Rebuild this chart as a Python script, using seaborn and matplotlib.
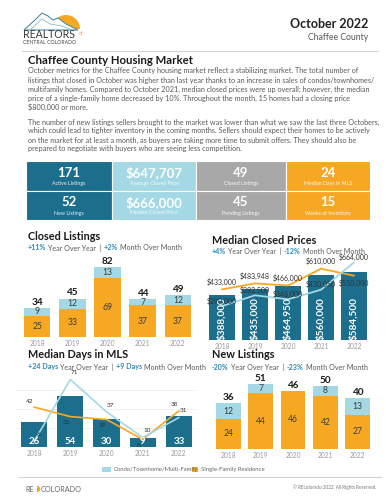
import numpy as np
import pandas as pd
import matplotlib.pyplot as plt
import seaborn as sns
from matplotlib.patches import Rectangle, Wedge, Polygon

# colours of the report
TEAL = '#1c6e8d'
LBLUE = '#a3d8e4'
ORANGE = '#f7a823'
GRAY = '#a8a8a8'
TXT = '#5a5a5a'
PCT = '#2e89b8'

# =============================================
# data
# =============================================
years = ['2018', '2019', '2020', '2021', '2022']

closed_condo = [9, 12, 13, 7, 12]
closed_sfr = [25, 33, 69, 37, 37]

price_all = [388000, 435000, 464950, 560000, 584500]
price_sfr = [433000, 483948, 466000, 610000, 550000]
price_condo = [290000, 382500, 348000, 430050, 664000]

dom_all = [26, 54, 30, 9, 33]
dom_sfr = [42, 32, 29, 8, 38]
dom_condo = [6, 71, 37, 10, 31]

new_condo = [12, 7, 0, 8, 13]
new_sfr = [24, 44, 46, 42, 27]

kpi_values = [['171', '$647,707', '49', '24'],
              ['52', '$666,000', '45', '15']]
kpi_labels = [['Active Listings', 'Average Closed Price', 'Closed Listings', 'Median Days in MLS'],
              ['New Listings', 'Median Closed Price', 'Pending Listings', 'Weeks of Inventory']]
kpi_colors = [TEAL, LBLUE, GRAY, ORANGE]

para1 = [
    "October metrics for the Chaffee County housing market reflect a stabilizing market. The total number of",
    "listings that closed in October was higher than last year thanks to an increase in sales of condos/townhomes/",
    "multifamily homes. Compared to October 2021, median closed prices were up overall; however, the median",
    "price of a single-family home decreased by 10%. Throughout the month, 15 homes had a closing price",
    "$800,000 or more.",
]
para2 = [
    "The number of new listings sellers brought to the market was lower than what we saw the last three Octobers,",
    "which could lead to tighter inventory in the coming months. Sellers should expect their homes to be actively",
    "on the market for at least a month, as buyers are taking more time to submit offers. They should also be",
    "prepared to negotiate with buyers who are seeing less competition.",
]

# =============================================
# figure set up (pixel coordinates on a background axes)
# =============================================
sns.set_style('white')
plt.rcParams['font.family'] = ['Lato', 'DejaVu Sans']
plt.rcParams['text.parse_math'] = False

fig = plt.figure(figsize=(3.86, 5.0), dpi=100)
bg = fig.add_axes([0, 0, 1, 1])
bg.set_xlim(0, 386)
bg.set_ylim(500, 0)
bg.axis('off')


def px_axes(x0, y0, x1, y1):
    ax = fig.add_axes([x0 / 386, 1 - y1 / 500, (x1 - x0) / 386, (y1 - y0) / 500])
    ax.patch.set_alpha(0)
    return ax


def style_axes(ax, ymax):
    ax.set_xlim(-0.5, len(years) - 0.5)
    ax.set_ylim(0, ymax)
    ax.set_xlabel('')
    ax.set_ylabel('')
    ax.set_yticks([])
    ax.set_xticks(range(len(years)))
    ax.set_xticklabels(years)
    ax.tick_params(axis='x', length=0, labelsize=4.8, labelcolor='#9a9a9a', pad=2)
    sns.despine(ax=ax, left=True, bottom=True)


def parts_text(x, y, parts, size=5.1):
    r = fig.canvas.get_renderer()
    gap = 0.3 * size * 100 / 72
    for s, color, weight in parts:
        t = bg.text(x, y, s, color=color, fontsize=size, fontweight=weight, va='center', ha='left')
        x += t.get_window_extent(renderer=r).width + gap


def stacked(ax, condo, sfr, ymax):
    df = pd.DataFrame({'year': years, 'condo': condo, 'sfr': sfr})
    df['total'] = df.condo + df.sfr
    sns.barplot(data=df, x='year', y='total', color=LBLUE, width=0.76, linewidth=0,
                saturation=1, ax=ax)
    sns.barplot(data=df, x='year', y='sfr', color=ORANGE, width=0.76, linewidth=0,
                saturation=1, ax=ax)
    for i, r in df.iterrows():
        ax.text(i, r.sfr / 2, str(r.sfr), ha='center', va='center', fontsize=6.2, color='#3d3d3d')
        if r.condo > 0:
            ax.text(i, r.sfr + r.condo / 2, str(r.condo), ha='center', va='center',
                    fontsize=6.2, color='#3d3d3d')
        ax.text(i, r.total + ymax * 0.015, str(r.total), ha='center', va='bottom',
                fontsize=7.2, fontweight='bold', color='#1a1a1a')
    style_axes(ax, ymax)


def line_labels(ax, sfr, condo, fmt, size, dx=0, up=1):
    # the higher series is labelled above its point, the lower single-family one below
    for i in range(len(years)):
        above = sfr[i] >= condo[i]
        ax.annotate(fmt(sfr[i]), (i, sfr[i]), xytext=(-dx, 2.5 if above else -2.5),
                    textcoords='offset points', ha='center', va='bottom' if above else 'top',
                    fontsize=size, color='#333333')
        ax.annotate(fmt(condo[i]), (i, condo[i]), xytext=(dx, up), textcoords='offset points',
                    ha='center', va='bottom', fontsize=size, color='#333333')


# =============================================
# header
# =============================================
bg.add_patch(Wedge((66, 29), 14, 180, 360, color=ORANGE, lw=0))
bg.add_patch(Polygon([(24, 30), (36, 19), (42, 13), (48, 16), (53, 20), (58, 18),
                      (66, 24), (78, 30)], closed=True, fc='white', ec='#4f8ea8', lw=0.8))
bg.plot([30, 42, 50, 62, 72], [30, 19, 24, 26, 30], color='#8fb9c9', lw=0.6)
bg.text(23, 34.5, 'REALTORS', fontsize=7.6, color='#3a3a3a', va='center', ha='left')
bg.text(79, 33, 'of', fontsize=4, color=ORANGE, style='italic', va='center')
bg.text(23, 43, 'CENTRAL COLORADO', fontsize=3.7, color='#444444', va='center', ha='left')

bg.text(368, 24, 'October 2022', fontsize=9, fontweight='bold', color='#222222',
        ha='right', va='center')
bg.text(368, 37, 'Chaffee County', fontsize=6.2, color='#555555', ha='right', va='center')
bg.plot([22, 378], [51, 51], color='#cdd6dc', lw=0.8)

bg.text(28, 61, 'Chaffee County Housing Market', fontsize=8.2, fontweight='bold',
        color='#1a1a1a', va='center')
for k, line in enumerate(para1):
    bg.text(28, 71 + 9 * k, line, fontsize=5.25, color=TXT, va='center')
for k, line in enumerate(para2):
    bg.text(28, 122 + 9 * k, line, fontsize=5.25, color=TXT, va='center')

# =============================================
# KPI tiles
# =============================================
col_x = [26, 112, 196, 286, 370]
row_y = [161, 190.5, 220]
for r in range(2):
    for c in range(4):
        x0, x1 = col_x[c], col_x[c + 1]
        y0, y1 = row_y[r], row_y[r + 1]
        bg.add_patch(Rectangle((x0, y0), x1 - x0, y1 - y0, fc=kpi_colors[c], ec='white', lw=0.8))
        xc = (x0 + x1) / 2
        bg.text(xc, y0 + 12, kpi_values[r][c], fontsize=9.5, fontweight='bold', color='white',
                ha='center', va='center')
        bg.text(xc, y0 + 22.5, kpi_labels[r][c], fontsize=3.8, color='white',
                ha='center', va='center', alpha=0.9)

# =============================================
# section titles
# =============================================
bg.text(28, 237, 'Closed Listings', fontsize=7.8, fontweight='bold', color='#1a1a1a', va='center')
parts_text(28, 248, [('+11%', PCT, 'bold'), ('Year Over Year  |', TXT, 'normal'),
                     ('+2%', PCT, 'bold'), ('Month Over Month', TXT, 'normal')])
bg.text(212, 240, 'Median Closed Prices', fontsize=7.8, fontweight='bold', color='#1a1a1a', va='center')
parts_text(212, 251, [('+4%', PCT, 'bold'), ('Year Over Year  |', TXT, 'normal'),
                      ('-12%', PCT, 'bold'), ('Month Over Month', TXT, 'normal')])
bg.text(28, 355, 'Median Days in MLS', fontsize=7.8, fontweight='bold', color='#1a1a1a', va='center')
parts_text(28, 367, [('+24 Days', PCT, 'bold'), ('Year Over Year  |', TXT, 'normal'),
                     ('+9 Days', PCT, 'bold'), ('Month Over Month', TXT, 'normal')])
bg.text(212, 355, 'New Listings', fontsize=7.8, fontweight='bold', color='#1a1a1a', va='center')
parts_text(212, 367, [('-20%', PCT, 'bold'), ('Year Over Year  |', TXT, 'normal'),
                      ('-23%', PCT, 'bold'), ('Month Over Month', TXT, 'normal')])

# =============================================
# charts
# =============================================
ax1 = px_axes(19.5, 256, 195.5, 337)
stacked(ax1, closed_condo, closed_sfr, 95)

ax4 = px_axes(212, 373, 374, 449)
stacked(ax4, new_condo, new_sfr, 60)

xs = np.arange(len(years))

# median closed prices
ax2 = px_axes(205.5, 257, 370.5, 340)
sns.barplot(x=years, y=price_all, color=TEAL, width=0.78, linewidth=0, saturation=1, ax=ax2)
sns.lineplot(x=xs, y=price_sfr, color=ORANGE, lw=1.3, ax=ax2)
sns.lineplot(x=xs, y=price_condo, color=LBLUE, lw=1.3, ax=ax2)
for i in xs:
    ax2.text(i, 2500, f'${price_all[i]:,}', rotation=90, ha='center', va='bottom',
             fontsize=7.2, fontweight='bold', color='white')
line_labels(ax2, price_sfr, price_condo, lambda v: f'${v:,}', 5.0)
style_axes(ax2, 710000)

# median days in MLS
ax3 = px_axes(16, 371, 197, 447)
for g in (20, 40, 60):
    ax3.axhline(g, color='#f0f0f0', lw=0.6, zorder=0)
sns.barplot(x=years, y=dom_all, color=TEAL, width=0.72, linewidth=0, saturation=1, ax=ax3)
sns.lineplot(x=xs, y=dom_sfr, color=ORANGE, lw=1.2, ax=ax3)
sns.lineplot(x=xs, y=dom_condo, color=LBLUE, lw=1.2, ax=ax3)
for i in xs:
    ax3.text(i, 1.2, str(dom_all[i]), ha='center', va='bottom', fontsize=7, fontweight='bold',
             color='white')
line_labels(ax3, dom_sfr, dom_condo, str, 4.6, dx=3, up=3)
style_axes(ax3, 80)

# =============================================
# legend and footer
# =============================================
bg.add_patch(Rectangle((102, 466.5), 9, 5, fc=LBLUE, lw=0))
bg.text(114, 469, 'Condo/Townhome/Multi-Family', fontsize=4.2, color='#666666', va='center')
bg.add_patch(Rectangle((192, 466.5), 6, 5, fc=ORANGE, lw=0))
bg.text(201, 469, 'Single-Family Residence', fontsize=4.3, color='#666666', va='center')

bg.plot([19, 381], [477, 477], color='#cdd6dc', lw=0.8)
bg.text(25, 489, 'RE', fontsize=5.2, color='#666666', va='center')
bg.add_patch(Wedge((37, 489), 3.2, 270, 90, color=ORANGE, lw=0))
bg.text(40.5, 489, 'COLORADO', fontsize=5.2, color='#666666', va='center')
bg.text(376, 487, '\u00a9 REcolorado 2022. All Rights Reserved.', fontsize=3.3, color='#777777',
        ha='right', va='center')

fig.savefig('out.png', dpi=100)
